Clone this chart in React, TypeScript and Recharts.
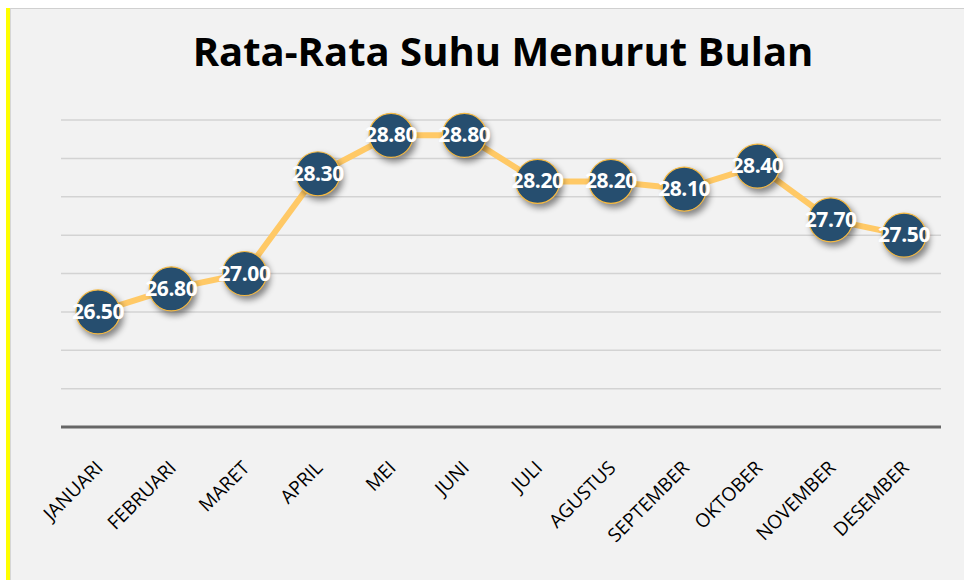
import React from "react";
import { LineChart, Line, XAxis, YAxis, CartesianGrid, LabelList } from "recharts";

const months = ["JANUARI","FEBRUARI","MARET","APRIL","MEI","JUNI","JULI","AGUSTUS","SEPTEMBER","OKTOBER","NOVEMBER","DESEMBER"];
const temps = [26.5, 26.8, 27.0, 28.3, 28.8, 28.8, 28.2, 28.2, 28.1, 28.4, 27.7, 27.5];
const yTicks = [25, 25.5, 26, 26.5, 27, 27.5, 28, 28.5, 29];
const title = "Rata-Rata Suhu Menurut Bulan";

const data = months.map((m, i) => ({ month: m, temp: temps[i] }));

const Dot = (props: any) => {
  const { cx, cy } = props;
  if (cx == null || cy == null) return null;
  return (
    <circle
      cx={cx}
      cy={cy}
      r={22}
      fill="#264E6F"
      stroke="#F5B942"
      strokeWidth={1.2}
      style={{ filter: "drop-shadow(3px 4px 3px rgba(0,0,0,0.45))" }}
    />
  );
};

const Tick = (props: any) => {
  const { x, y, payload } = props;
  const ax = x + 6;
  const ay = y + 34;
  return (
    <text
      x={ax}
      y={ay}
      transform={`rotate(-45, ${ax}, ${ay})`}
      textAnchor="end"
      fontFamily="Open Sans"
      fontSize={19}
      fill="#000"
    >
      {payload.value}
    </text>
  );
};

const Label = (props: any) => {
  const { x, y, value } = props;
  return (
    <text
      x={x}
      y={y}
      dy={7}
      textAnchor="middle"
      fontFamily="Open Sans"
      fontWeight="bold"
      fontSize={21}
      fill="#fff"
      letterSpacing={-0.4}
    >
      {Number(value).toFixed(2)}
    </text>
  );
};

export default function App() {
  return (
    <div style={{ position: "absolute", left: 0, top: 0, width: 964, height: 580, background: "#fff" }}>
      <div style={{ position: "absolute", left: 6, top: 8, width: 4, height: 572, background: "#FFFF00" }} />
      <div style={{ position: "absolute", left: 10, top: 8, width: 954, height: 572, background: "#F2F2F2", borderTop: "1px solid #D0D0D0", borderLeft: "1px solid #D6D6D6", boxSizing: "border-box" }} />
      <div style={{ position: "absolute", left: 0, top: 24, width: 1006, textAlign: "center", fontFamily: "Open Sans", fontWeight: "bold", fontSize: 40, color: "#000", lineHeight: "54px" }}>
        {title}
      </div>
      <div style={{ position: "absolute", left: 0, top: 0 }}>
        <LineChart width={964} height={580} data={data} margin={{ top: 120, right: 23, left: 61, bottom: 0 }}>
          <CartesianGrid horizontal vertical={false} stroke="#D3D3D3" strokeWidth={1.5} />
          <YAxis hide width={0} domain={[25, 29]} ticks={yTicks} type="number" />
          <XAxis
            dataKey="month"
            height={153}
            axisLine={{ stroke: "#666", strokeWidth: 3 }}
            tickLine={false}
            tick={<Tick />}
            interval={0}
            padding={{ left: 37, right: 37 }}
          />
          <Line
            dataKey="temp"
            stroke="#FFC966"
            strokeWidth={6}
            dot={<Dot />}
            activeDot={false}
            isAnimationActive={false}
          >
            <LabelList dataKey="temp" content={<Label />} />
          </Line>
        </LineChart>
      </div>
    </div>
  );
}
